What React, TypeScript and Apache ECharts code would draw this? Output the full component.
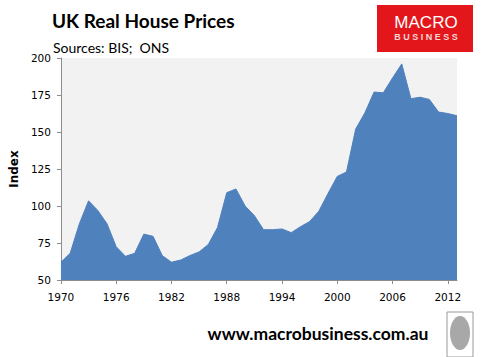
import React, { useEffect, useRef } from "react";
import * as echarts from "echarts";

const years: string[] = [];
for (let y = 1970; y <= 2013; y++) years.push(String(y));

const prices = [
  62, 68, 88, 103.5, 97, 88, 72.5, 66, 68, 81,
  79.5, 66.5, 62, 63.5, 66.5, 69, 74, 85.5, 109, 111.5,
  100, 93.5, 84, 84, 84.5, 82, 86, 89.5, 96.5, 108.5,
  120, 123, 152, 163, 177, 176.5, 186.5, 196, 172.5, 173.5,
  172, 163.5, 162.5, 161,
];

const yTicks = { min: 50, max: 200, step: 25 };

export default function App() {
  const ref = useRef<HTMLDivElement>(null);
  useEffect(() => {
    if (!ref.current) return;
    const chart = echarts.init(ref.current, undefined, { renderer: "svg" });
    chart.setOption({
      animation: false,
      backgroundColor: "#ffffff",
      grid: { left: 51, right: 26, top: 58, bottom: 77, show: true, backgroundColor: "#f2f2f2", borderWidth: 0 },
      xAxis: {
        type: "category",
        data: years,
        boundaryGap: false,
        axisLine: { lineStyle: { color: "#8c8c8c", width: 1 } },
        axisTick: { interval: 5, length: 4, lineStyle: { color: "#8c8c8c" } },
        axisLabel: { interval: 5, color: "#000", fontFamily: "DejaVu Sans", fontSize: 10.5, margin: 11 },
        splitLine: { show: false },
      },
      yAxis: {
        type: "value",
        min: yTicks.min,
        max: yTicks.max,
        interval: yTicks.step,
        name: "Index",
        nameLocation: "middle",
        nameGap: 34,
        nameRotate: 90,
        nameTextStyle: { color: "#000", fontFamily: "DejaVu Sans", fontWeight: "bold", fontSize: 12 },
        axisLine: { show: true, lineStyle: { color: "#8c8c8c", width: 1 } },
        axisTick: { show: true, length: 4, lineStyle: { color: "#8c8c8c" } },
        axisLabel: { color: "#000", fontFamily: "DejaVu Sans", fontSize: 10.5, margin: 10 },
        splitLine: { show: false },
      },
      series: [
        {
          type: "line",
          data: prices,
          symbol: "none",
          lineStyle: { color: "#4f81bd", width: 1 },
          areaStyle: { color: "#4f81bd", opacity: 1, origin: "start" },
        },
      ],
      graphic: [
        {
          type: "text",
          left: 52,
          top: 11,
          style: { text: "UK Real House Prices", fontFamily: "Lato", fontWeight: "bold", fontSize: 19, fill: "#000" },
        },
        {
          type: "text",
          left: 53,
          top: 40,
          style: { text: "Sources: BIS;  ONS", fontFamily: "Lato", fontSize: 14, fill: "#000" },
        },
        {
          type: "rect",
          shape: { x: 377, y: 5, width: 96, height: 47 },
          style: { fill: "#e3171b" },
        },
        {
          type: "text",
          x: 426,
          y: 22.5,
          style: { text: "MACRO", fontFamily: "Liberation Sans", fontWeight: "normal", fontSize: 17, fill: "#ffffff", align: "center", verticalAlign: "middle" },
        },
        {
          type: "text",
          x: 426,
          y: 36.5,
          style: { text: "B U S I N E S S", fontFamily: "Liberation Sans", fontWeight: "bold", fontSize: 9, fill: "#f2d6d6", align: "center", verticalAlign: "middle" },
        },
        {
          type: "text",
          x: 318,
          y: 333,
          style: { text: "www.macrobusiness.com.au", fontFamily: "Lato", fontWeight: "bold", fontSize: 17.5, fill: "#000", align: "center", verticalAlign: "middle" },
        },
        {
          type: "rect",
          shape: { x: 447, y: 312, width: 26, height: 45 },
          style: { fill: "#ffffff", stroke: "#9a9a9a", lineWidth: 1 },
        },
        {
          type: "ellipse",
          shape: { cx: 460, cy: 333, rx: 10, ry: 17 },
          style: { fill: "#a8a8a8" },
        },
      ],
    });
    return () => chart.dispose();
  }, []);
  return <div ref={ref} style={{ position: "fixed", left: 0, top: 0, width: 483, height: 357 }} />;
}
